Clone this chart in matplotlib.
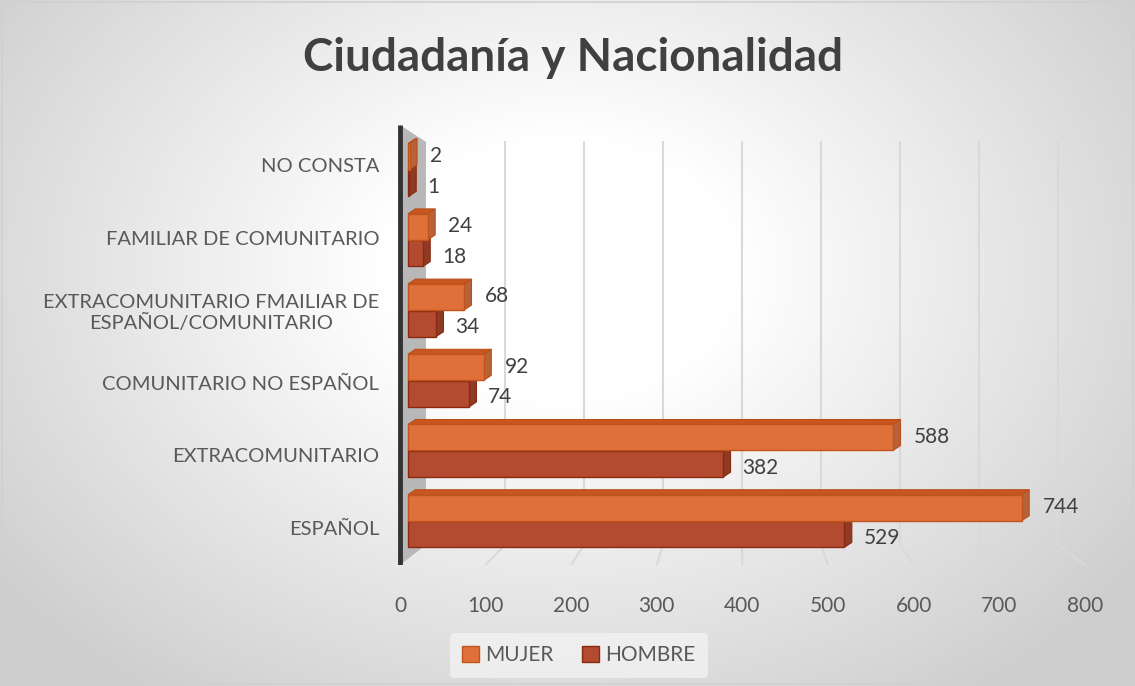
import numpy as np
import matplotlib.pyplot as plt
from matplotlib.patches import Polygon, Rectangle

categories = ['ESPAÑOL', 'EXTRACOMUNITARIO', 'COMUNITARIO NO ESPAÑOL',
              'EXTRACOMUNITARIO FMAILIAR DE\nESPAÑOL/COMUNITARIO',
              'FAMILIAR DE COMUNITARIO', 'NO CONSTA']
mujer = [744, 588, 92, 68, 24, 2]
hombre = [529, 382, 74, 34, 18, 1]
xticks = [0, 100, 200, 300, 400, 500, 600, 700, 800]

plt.rcParams['font.family'] = ['Lato', 'DejaVu Sans']

fig = plt.figure(figsize=(11.35, 6.86), dpi=100)

# radial background
bg = fig.add_axes([0, 0, 1, 1], zorder=-10)
yy, xx = np.mgrid[0:686, 0:1135]
r = np.sqrt(((xx - 560) / 700.0) ** 2 + ((yy - 270) / 520.0) ** 2)
t = np.clip((r - 0.25) / 0.75, 0, 1)
g = 1.0 - 0.19 * t
bg.imshow(np.dstack([g, g, g]), aspect='auto', extent=[0, 1, 0, 1])
bg.axis('off')
fig.patches.append(Rectangle((0.002, 0.003), 0.996, 0.994, transform=fig.transFigure,
                             fill=False, edgecolor='#d0d0d0', lw=1.2))

fig.text(0.505, 0.915, 'Ciudadanía y Nacionalidad', ha='center', va='center',
         fontsize=33, fontweight='bold', color='#404040')

ax = fig.add_axes([396 / 1135, 1 - 565 / 686, 694 / 1135, 440 / 686])
ax.patch.set_alpha(0)
ax.set_xlim(-14.5, 826.7)
ax.set_ylim(-0.627, 5.64)

# 3D perspective: front edge (ticks) is wider than the back wall (bars)
front_x = lambda v: -9.7 + 1.0376 * v
back_x = lambda v: 21.8 + 0.958 * v
y_top, y_bot = 5.40, -0.34

# wall and grid
ax.add_patch(Polygon([(front_x(0), -0.627), (front_x(0), 5.64), (back_x(0), y_top), (back_x(0), y_bot)],
                     closed=True, facecolor='#b8b8b8', edgecolor='none', zorder=1))
ax.plot([front_x(0), front_x(0)], [-0.627, 5.64], color='#333333', lw=3.5, zorder=2,
        solid_capstyle='butt')
for xv in xticks[1:]:
    ax.plot([back_x(xv), back_x(xv)], [y_bot, y_top], color='#d9d9d9', lw=1.5, zorder=1)
    ax.plot([back_x(xv), front_x(xv)], [y_bot, -0.627], color='#d9d9d9', lw=1.5, zorder=1)

dx, dy, h = 9, 0.07, 0.37
y = np.arange(len(categories))


def bar3d(yc, v, top, side, edge):
    yb, yt = yc - h / 2, yc + h / 2
    ax.add_patch(Polygon([(0, yt), (v, yt), (v + dx, yt + dy), (dx, yt + dy)],
                         closed=True, facecolor=top, edgecolor=edge, lw=0.8, zorder=3))
    ax.add_patch(Polygon([(v, yb), (v, yt), (v + dx, yt + dy), (v + dx, yb + dy)],
                         closed=True, facecolor=side, edgecolor=edge, lw=0.8, zorder=3))


for i in range(len(categories)):
    bar3d(y[i] - 0.19, hombre[i], '#9c3a20', '#8e3a24', '#8a2a12')
ax.barh(y - 0.19, hombre, height=h, color='#b24b2f', edgecolor='#8a2a12', lw=1, zorder=4,
        label='HOMBRE')
for i in range(len(categories)):
    bar3d(y[i] + 0.19, mujer[i], '#c9561f', '#b8623a', '#b9501c')
ax.barh(y + 0.19, mujer, height=h, color='#e0703a', edgecolor='#c0541c', lw=1, zorder=5,
        label='MUJER')

for i in range(len(categories)):
    ax.text(mujer[i] + dx + 16, y[i] + 0.2, str(mujer[i]), va='center', ha='left',
            fontsize=15, color='#404040', zorder=6)
    ax.text(hombre[i] + dx + 14, y[i] - 0.24, str(hombre[i]), va='center', ha='left',
            fontsize=15, color='#404040', zorder=6)

ax.set_xticks([front_x(v) for v in xticks])
ax.set_xticklabels([str(v) for v in xticks], fontsize=15, color='#595959')
ax.set_yticks(1.034 * y - 0.1)
ax.set_yticklabels(categories, fontsize=14.5, color='#595959', multialignment='center')
ax.tick_params(axis='both', length=0)
ax.tick_params(axis='x', pad=22)
ax.tick_params(axis='y', pad=12)
for s in ax.spines.values():
    s.set_visible(False)

handles, labels = ax.get_legend_handles_labels()
leg = fig.legend(handles[::-1], labels[::-1], loc='center', bbox_to_anchor=(0.51, 0.045),
                 ncol=2, frameon=True, fontsize=15, handlelength=0.8, handleheight=0.8,
                 columnspacing=1.4, handletextpad=0.3, borderpad=0.6)
leg.get_frame().set_facecolor('#f2f2f2')
leg.get_frame().set_edgecolor('none')
for txt in leg.get_texts():
    txt.set_color('#595959')

fig.savefig('out.png', dpi=100)
